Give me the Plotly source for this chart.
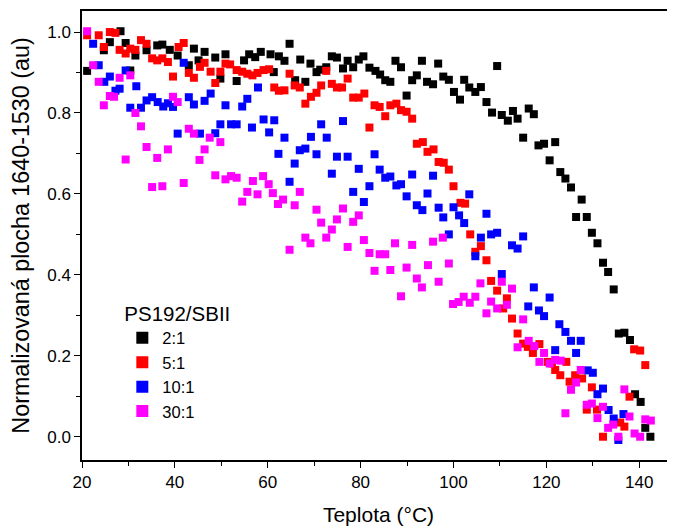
import plotly.graph_objects as go

# ---- data (temperature °C, normalized area) ----
black_x = [21.1, 24.7, 26.0, 28.3, 29.4, 30.4, 31.5, 33.9, 36.2, 37.3, 38.9, 40.6, 43.0, 44.1, 45.1, 46.4, 48.7, 49.8, 50.9, 53.3,
           54.9, 56.0, 57.3, 58.5, 60.6, 61.3, 62.4, 63.6, 64.7, 65.9, 67.0, 68.1, 69.2, 70.5, 71.3, 72.6, 73.8, 74.9, 76.2, 77.2,
           78.4, 79.6, 80.6, 81.9, 83.2, 84.2, 85.3, 86.4, 87.5, 88.7, 89.9, 91.1, 92.1, 93.2, 94.3, 95.6, 96.7, 97.8, 99.0, 100.1,
           101.4, 102.3, 103.4, 104.7, 105.9, 107.1, 108.3, 109.4, 110.4, 111.7, 112.8, 113.8, 115.0, 116.2, 117.3, 118.3, 119.5, 120.7, 121.9, 123.0,
           124.1, 125.3, 126.4, 127.6, 128.7, 129.8, 131.0, 132.2, 133.3, 134.5, 135.6, 136.8, 138.0, 139.1, 140.3, 141.3, 142.4]
black_y = [0.904, 0.955, 0.975, 1.002, 0.973, 0.905, 0.942, 0.955, 0.967, 0.969, 0.956, 0.942, 0.918, 0.959, 0.930, 0.951, 0.937, 0.885, 0.945, 0.879,
           0.930, 0.945, 0.938, 0.951, 0.945, 0.901, 0.940, 0.929, 0.971, 0.881, 0.932, 0.877, 0.922, 0.901, 0.907, 0.913, 0.940, 0.937, 0.910, 0.929,
           0.913, 0.932, 0.940, 0.912, 0.904, 0.895, 0.881, 0.877, 0.929, 0.913, 0.843, 0.881, 0.893, 0.929, 0.877, 0.871, 0.922, 0.890, 0.882, 0.852,
           0.833, 0.882, 0.863, 0.852, 0.864, 0.827, 0.801, 0.916, 0.795, 0.781, 0.805, 0.786, 0.739, 0.811, 0.797, 0.720, 0.724, 0.683, 0.728, 0.654,
           0.638, 0.616, 0.543, 0.586, 0.543, 0.504, 0.478, 0.430, 0.407, 0.364, 0.255, 0.257, 0.239, 0.105, 0.086, 0.022, 0.000]

red_x = [21.1, 23.6, 24.7, 26.0, 27.2, 28.1, 29.4, 30.4, 31.5, 32.7, 33.9, 35.1, 36.2, 37.3, 38.5, 39.6, 40.8, 41.9, 43.0, 44.1,
         45.4, 46.4, 47.7, 48.7, 49.8, 50.9, 51.9, 53.3, 54.5, 55.6, 56.7, 57.8, 59.1, 60.3, 61.4, 62.4, 63.6, 64.7, 65.8, 66.9,
         68.1, 69.3, 70.5, 71.5, 72.6, 73.8, 74.9, 76.0, 77.2, 78.4, 79.6, 80.8, 81.9, 83.0, 84.1, 85.3, 86.4, 87.7, 88.7, 89.9,
         91.1, 92.1, 93.4, 94.4, 95.7, 96.8, 97.9, 99.0, 100.0, 101.5, 102.5, 103.6, 104.7, 105.9, 107.1, 108.1, 109.4, 110.7, 111.5, 112.6,
         113.8, 115.0, 116.0, 117.1, 118.5, 120.3, 121.2, 121.9, 123.0, 124.3, 125.0, 126.2, 127.7, 128.7, 129.8, 130.9, 132.2, 135.9, 136.8, 137.9,
         138.9, 140.2, 141.3]
red_y = [0.992, 0.992, 0.963, 1.000, 0.998, 0.956, 0.947, 0.959, 0.956, 0.980, 0.971, 0.935, 0.930, 0.935, 0.926, 0.890, 0.963, 0.973, 0.899, 0.887,
         0.914, 0.924, 0.902, 0.874, 0.902, 0.922, 0.920, 0.906, 0.902, 0.897, 0.893, 0.899, 0.906, 0.908, 0.863, 0.855, 0.856, 0.897, 0.868, 0.863,
         0.823, 0.840, 0.850, 0.868, 0.904, 0.872, 0.863, 0.863, 0.885, 0.838, 0.838, 0.848, 0.764, 0.819, 0.815, 0.792, 0.819, 0.823, 0.807, 0.803,
         0.786, 0.724, 0.728, 0.704, 0.710, 0.679, 0.677, 0.660, 0.619, 0.578, 0.576, 0.500, 0.457, 0.471, 0.436, 0.385, 0.361, 0.317, 0.342, 0.292,
         0.255, 0.230, 0.222, 0.207, 0.229, 0.185, 0.181, 0.165, 0.152, 0.185, 0.136, 0.152, 0.144, 0.067, 0.122, 0.067, 0.000, 0.035, 0.025, 0.099,
         0.216, 0.213, 0.177]

blue_x = [22.4, 23.6, 24.8, 26.0, 27.2, 28.1, 29.4, 30.4, 31.7, 32.7, 33.9, 35.1, 36.3, 37.5, 38.5, 39.6, 40.6, 41.9, 43.0, 44.1,
          45.4, 46.4, 47.7, 48.7, 49.8, 50.9, 52.1, 53.3, 54.5, 55.6, 56.6, 57.9, 59.1, 60.3, 61.4, 62.3, 63.6, 64.7, 65.8, 66.9,
          68.1, 69.3, 70.5, 71.5, 72.7, 73.8, 74.9, 76.2, 77.2, 78.4, 79.6, 80.7, 81.9, 83.0, 84.1, 85.3, 86.4, 87.7, 88.7, 89.9,
          91.1, 92.1, 93.3, 94.4, 95.6, 96.8, 97.8, 99.0, 100.0, 101.2, 102.3, 103.4, 104.7, 105.9, 107.1, 108.1, 109.4, 110.4, 112.6, 113.8,
          115.0, 116.1, 117.3, 118.4, 119.5, 120.7, 121.9, 122.8, 124.1, 125.3, 126.4, 127.4, 128.9, 130.0, 131.0, 132.2, 133.4, 134.5, 135.5, 136.6]
blue_y = [0.971, 0.918, 0.877, 0.890, 0.855, 0.860, 0.905, 0.813, 0.866, 0.813, 0.831, 0.839, 0.827, 0.816, 0.824, 0.815, 0.749, 0.924, 0.839, 0.821,
          0.749, 0.830, 0.848, 0.750, 0.772, 0.819, 0.772, 0.772, 0.816, 0.835, 0.764, 0.863, 0.784, 0.752, 0.782, 0.699, 0.739, 0.630, 0.675, 0.708,
          0.712, 0.741, 0.698, 0.772, 0.739, 0.650, 0.692, 0.780, 0.692, 0.605, 0.662, 0.580, 0.619, 0.698, 0.660, 0.640, 0.643, 0.621, 0.624, 0.594,
          0.648, 0.572, 0.560, 0.601, 0.645, 0.566, 0.542, 0.500, 0.567, 0.547, 0.528, 0.599, 0.446, 0.492, 0.551, 0.500, 0.504, 0.402, 0.473, 0.465,
          0.495, 0.322, 0.369, 0.312, 0.298, 0.344, 0.214, 0.278, 0.259, 0.237, 0.207, 0.237, 0.164, 0.158, 0.105, 0.119, 0.066, 0.045, -0.008, 0.056]

mag_x = [21.1, 22.4, 23.6, 24.7, 26.0, 26.9, 28.1, 29.4, 30.4, 31.5, 32.7, 33.9, 35.1, 36.2, 37.3, 38.5, 39.6, 40.6, 41.9, 43.0,
         44.1, 45.3, 46.4, 47.5, 48.7, 49.8, 50.9, 52.1, 53.3, 54.5, 55.6, 56.8, 57.8, 59.0, 60.2, 61.1, 62.2, 63.3, 64.7, 65.8,
         66.9, 68.1, 69.2, 70.5, 71.5, 72.6, 73.8, 74.9, 76.2, 77.2, 78.4, 79.6, 80.7, 81.9, 83.0, 84.1, 85.3, 86.4, 87.4, 88.7,
         89.9, 91.1, 92.1, 93.2, 94.5, 95.6, 96.8, 97.7, 99.0, 99.9, 101.1, 102.2, 103.5, 104.7, 105.8, 107.1, 108.1, 109.4, 110.4, 111.5,
         112.6, 113.8, 115.0, 116.2, 117.4, 118.5, 119.5, 120.7, 121.9, 123.1, 124.1, 125.3, 126.4, 127.4, 128.7, 129.8, 131.0, 132.2, 133.3, 134.4,
         135.5, 136.8, 137.9, 139.0, 140.2, 141.3, 142.5]
mag_y = [1.002, 0.918, 0.877, 0.819, 0.842, 0.840, 0.887, 0.685, 0.893, 0.800, 0.767, 0.716, 0.617, 0.689, 0.619, 0.710, 0.840, 0.827, 0.627, 0.761,
         0.749, 0.684, 0.710, 0.739, 0.646, 0.728, 0.636, 0.644, 0.640, 0.581, 0.605, 0.632, 0.599, 0.644, 0.624, 0.602, 0.575, 0.586, 0.462, 0.572,
         0.605, 0.492, 0.478, 0.561, 0.529, 0.492, 0.512, 0.537, 0.564, 0.469, 0.531, 0.547, 0.486, 0.454, 0.410, 0.451, 0.451, 0.412, 0.478, 0.347,
         0.418, 0.474, 0.391, 0.369, 0.424, 0.482, 0.383, 0.492, 0.428, 0.328, 0.333, 0.346, 0.331, 0.346, 0.379, 0.305, 0.334, 0.317, 0.383, 0.326,
         0.366, 0.221, 0.290, 0.237, 0.224, 0.185, 0.207, 0.181, 0.190, 0.188, 0.058, 0.116, 0.134, 0.165, 0.079, 0.082, 0.046, 0.074, 0.022, 0.030,
         0.000, 0.117, 0.050, 0.008, 0.000, 0.043, 0.040]

series_names = ["2:1", "5:1", "10:1", "30:1"]
series_colors = ["#000000", "#FF0000", "#0000FF", "#FF00FF"]
series_x = [black_x, red_x, blue_x, mag_x]
series_y = [black_y, red_y, blue_y, mag_y]

x_tick_vals = [20, 40, 60, 80, 100, 120, 140]
y_tick_vals = [0.0, 0.2, 0.4, 0.6, 0.8, 1.0]
y_tick_text = ["0.0", "0.2", "0.4", "0.6", "0.8", "1.0"]

FONT = "Arial, 'Liberation Sans', sans-serif"

fig = go.Figure()
for name, color, xs, ys in zip(series_names, series_colors, series_x, series_y):
    fig.add_trace(go.Scatter(
        x=xs, y=ys, mode="markers", name=name,
        marker=dict(symbol="square", size=8, color=color, line=dict(width=0)),
    ))

axis_common = dict(
    showgrid=False, zeroline=False, showline=True, linecolor="#000000", linewidth=1.5,
    ticks="outside", ticklen=6, tickwidth=1.2, tickcolor="#000000",
    tickfont=dict(family=FONT, size=17, color="#000000"),
    automargin=False,
)

# the page body adds an 8px offset, so the figure is 667x518 inside the 675x526 window
fig.update_layout(
    width=667, height=518,
    margin=dict(l=73.5, r=0, t=2.7, b=66, autoexpand=False),
    paper_bgcolor="white", plot_bgcolor="white",
    font=dict(family=FONT, color="#000000"),
    xaxis=dict(
        range=[20, 147.7], tickvals=x_tick_vals, mirror=True,
        minor=dict(dtick=10, tick0=20, ticklen=4, tickcolor="#000000", ticks="outside"),
        title=dict(text="Teplota (°C)", font=dict(family=FONT, size=21), standoff=17),
        **axis_common,
    ),
    yaxis=dict(
        range=[-0.0575, 1.052], tickvals=y_tick_vals, ticktext=y_tick_text, mirror=False,
        minor=dict(dtick=0.1, tick0=0, ticklen=4, tickcolor="#000000", ticks="outside"),
        title=dict(text="Normalizovaná plocha 1640-1530 (au)", font=dict(family=FONT, size=23.3), standoff=12),
        **axis_common,
    ),
    legend=dict(
        title=dict(text="PS192/SBII", font=dict(family=FONT, size=20.5)),
        font=dict(family=FONT, size=16.5),
        x=0.068, y=0.37, xanchor="left", yanchor="top",
        bgcolor="rgba(0,0,0,0)", itemsizing="constant",
        tracegroupgap=0,
    ),
    showlegend=True,
)

fig.write_html("out.html")
